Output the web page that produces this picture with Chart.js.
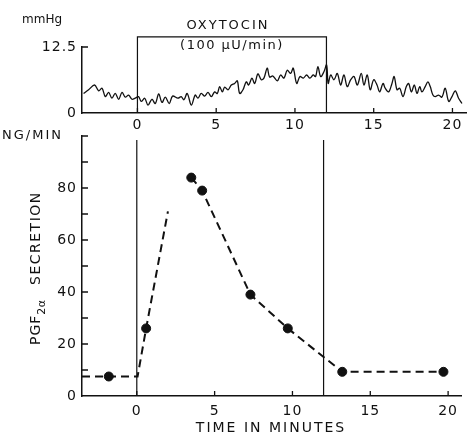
<!DOCTYPE html>
<html>
<head>
<meta charset="utf-8">
<script src="https://cdn.jsdelivr.net/npm/chart.js@4.4.1/dist/chart.umd.min.js"></script>
<style>
  body { margin: 0; background: #fff; }
  .wrap { position: relative; width: 467px; height: 436px; }
  canvas { position: absolute; left: 0; }
  #top { top: 0; }
  #bottom { top: 120px; }
</style>
</head>
<body>
<div class="wrap">
  <canvas id="top" width="467" height="140"></canvas>
  <canvas id="bottom" width="467" height="316"></canvas>
</div>
<script>
// time axis (minutes)
const timeMin = -3.52;
const timeMax = 20.86;
const timeTicks = [0, 5, 10, 15, 20];

// oxytocin infusion
const infusionStart = 0;
const infusionEnd = 12;
const boxTop = 14.4;

// uterine pressure trace (mmHg)
const pressureTimes = [-3.42, -3.1, -2.72, -2.46, -2.25, -2.04, -1.83, -1.62, -1.41, -1.19, -0.98, -0.77, -0.56, -0.35, -0.14,
  0.07, 0.24, 0.46, 0.67, 0.92, 1.13, 1.35, 1.56, 1.77, 2.02, 2.23,
  2.57, 2.78, 2.95, 3.16, 3.42, 3.67, 3.84, 4.05, 4.27, 4.48, 4.69, 4.9, 5.07, 5.22, 5.39, 5.54, 5.75, 5.96, 6.17, 6.34,
  6.49, 6.7, 6.91, 7.06, 7.27, 7.44, 7.65, 7.86, 8.03, 8.24, 8.39, 8.6,
  8.88, 9.09, 9.3, 9.51, 9.73, 9.89, 10.11, 10.32, 10.53, 10.74, 10.95, 11.16, 11.31, 11.46, 11.63, 11.84, 12.01,
  12.11, 12.27, 12.48, 12.69, 12.9, 13.11, 13.32, 13.54, 13.75, 13.96, 14.21, 14.38, 14.59,
  14.78, 15.0, 15.21, 15.38, 15.59, 15.73, 15.95, 16.16, 16.3, 16.48, 16.65, 16.86, 17.07, 17.22, 17.39, 17.58,
  17.75, 17.92, 18.06, 18.27, 18.44, 18.59, 18.76, 18.91, 19.12, 19.33, 19.54, 19.76, 19.97, 20.18, 20.39, 20.6];
const pressureValues = [3.7, 4.4, 5.3, 4.2, 4.7, 3.1, 3.9, 2.8, 3.7, 2.6, 3.9, 3.0, 3.4, 2.6, 2.8,
  3.1, 2.2, 2.8, 1.5, 2.6, 1.8, 3.6, 2.0, 3.0, 1.8, 3.2,
  2.8, 3.1, 2.5, 3.7, 1.5, 3.4, 2.8, 3.7, 3.2, 3.9, 3.1, 4.0, 3.7, 5.0, 4.0, 4.9, 4.4, 5.3, 5.6, 6.1,
  3.7, 4.4, 5.9, 5.3, 6.6, 5.6, 7.4, 6.3, 6.6, 8.5, 6.8, 7.0,
  6.1, 7.2, 6.6, 8.1, 7.5, 8.5, 5.6, 6.9, 6.6, 7.2, 6.6, 7.2, 6.9, 8.8, 6.9, 7.8, 9.1,
  5.6, 7.2, 6.3, 7.5, 5.3, 7.2, 5.0, 6.3, 6.9, 5.3, 7.5, 5.3, 7.2,
  4.4, 6.3, 5.3, 4.0, 5.6, 4.7, 4.0, 5.6, 6.9, 4.4, 4.7, 3.1, 5.0, 5.6, 4.0, 5.3,
  3.7, 5.0, 4.0, 5.0, 5.9, 5.0, 3.4, 3.1, 3.4, 3.0, 4.7, 2.2, 3.1, 4.2, 2.8, 1.8];
const pressureTicks = [0, 12.5];

// PGF2a secretion (ng/min)
const sampleTimes = [-1.8, 0.6, 3.5, 4.2, 7.3, 9.7, 13.2, 19.7];
const sampleValues = [7.5, 26, 84, 79, 39, 26, 9.3, 9.3];
const riseTimes = [-3.52, -1.8, 0.05, 0.6, 2.0];
const riseValues = [7.5, 7.5, 7.5, 26, 71];
const fallTimes = [3.5, 4.2, 7.3, 9.7, 13.2, 19.7];
const fallValues = [84, 79, 39, 26, 9.3, 9.3];
const secretionTicks = [0, 10, 20, 30, 40, 50, 60, 70, 80, 90, 100];
const secretionMax = 100;
const markerTop = 98.5;

const ink = '#111';
Chart.defaults.font.family = 'DejaVu Sans';
Chart.defaults.color = ink;

const pts = (xs, ys) => xs.map((x, i) => ({ x, y: ys[i] }));

const spacing = {
  id: 'spacing',
  beforeDraw(chart) { chart.ctx.letterSpacing = '1px'; },
  afterDraw(chart) { chart.ctx.letterSpacing = '0px'; }
};

const inwardTicks = {
  id: 'inwardTicks',
  afterDraw(chart) {
    const { ctx } = chart;
    const { x, y } = chart.scales;
    ctx.save();
    ctx.strokeStyle = ink;
    ctx.lineWidth = 1.3;
    ctx.beginPath();
    x.ticks.forEach(t => {
      const px = x.getPixelForValue(t.value);
      ctx.moveTo(px, x.top);
      ctx.lineTo(px, x.top - 5);
    });
    y.ticks.forEach(t => {
      const py = y.getPixelForValue(t.value);
      if (t.value === 0) return;
      ctx.moveTo(y.right, py);
      ctx.lineTo(y.right + 6, py);
    });
    ctx.stroke();
    ctx.restore();
  }
};

function text(ctx, str, x, y, size, align, gap) {
  ctx.font = size + 'px "DejaVu Sans"';
  ctx.letterSpacing = gap + 'px';
  ctx.textAlign = align;
  ctx.fillText(str, x, y);
}

const topLabels = {
  id: 'topLabels',
  afterDraw(chart) {
    const { ctx } = chart;
    const { x, y } = chart.scales;
    const cx = (x.getPixelForValue(infusionStart) + x.getPixelForValue(infusionEnd)) / 2;
    const by = y.getPixelForValue(boxTop);
    ctx.save();
    ctx.fillStyle = ink;
    ctx.textBaseline = 'middle';
    text(ctx, 'mmHg', 22, 20, 12, 'left', 0);
    text(ctx, 'OXYTOCIN', cx - 4, by - 11, 13, 'center', 2);
    text(ctx, '(100 \u03bcU/min)', cx, by + 9, 13, 'center', 1.5);
    ctx.restore();
  }
};

const bottomLabels = {
  id: 'bottomLabels',
  afterDraw(chart) {
    const { ctx } = chart;
    const { y } = chart.scales;
    ctx.save();
    ctx.fillStyle = ink;
    ctx.textBaseline = 'middle';
    text(ctx, 'NG/MIN', 2, y.getPixelForValue(secretionMax), 13, 'left', 2);
    text(ctx, 'TIME IN MINUTES', 271, 308, 14, 'center', 2);
    ctx.textBaseline = 'alphabetic';
    ctx.translate(40, 225);
    ctx.rotate(-Math.PI / 2);
    text(ctx, 'PGF', 0, 0, 14, 'left', 1);
    const w = ctx.measureText('PGF').width;
    text(ctx, '2\u03b1', w, 5, 11, 'left', 0.5);
    text(ctx, 'SECRETION', 60, 0, 14, 'left', 1.5);
    ctx.restore();
  }
};

const timeAxis = (height, pad) => ({
  type: 'linear',
  min: timeMin,
  max: timeMax,
  afterBuildTicks: s => { s.ticks = timeTicks.map(v => ({ value: v })); },
  afterFit: s => { s.height = height; },
  grid: { display: false, drawTicks: false },
  border: { display: true, color: ink, width: 1.5 },
  ticks: { padding: pad, font: { size: 14 }, color: ink, maxRotation: 0 }
});

new Chart(document.getElementById('top'), {
  type: 'line',
  data: {
    datasets: [
      {
        data: pts([infusionStart, infusionStart, infusionEnd, infusionEnd], [0, boxTop, boxTop, 0]),
        borderColor: ink, borderWidth: 1.2, pointRadius: 0, tension: 0, clip: false
      },
      {
        data: pts(pressureTimes, pressureValues),
        borderColor: ink, borderWidth: 1.3, pointRadius: 0, tension: 0.35
      }
    ]
  },
  options: {
    responsive: false,
    animation: false,
    devicePixelRatio: 1,
    layout: { padding: { left: 0, right: 1, top: 47, bottom: 0 } },
    plugins: { legend: { display: false }, tooltip: { enabled: false } },
    scales: {
      x: timeAxis(27, 4),
      y: {
        type: 'linear',
        min: 0,
        max: 12.5,
        afterBuildTicks: s => { s.ticks = pressureTicks.map(v => ({ value: v })); },
        afterFit: s => { s.width = 82; },
        grid: { display: false, drawTicks: false },
        border: { display: true, color: ink, width: 1.5 },
        ticks: { padding: 5, font: { size: 14 }, color: ink, callback: v => String(v) }
      }
    }
  },
  plugins: [spacing, inwardTicks, topLabels]
});

new Chart(document.getElementById('bottom'), {
  type: 'line',
  data: {
    datasets: [
      {
        data: pts([infusionStart, infusionStart], [0, markerTop]),
        borderColor: ink, borderWidth: 1.2, pointRadius: 0
      },
      {
        data: pts([infusionEnd, infusionEnd], [0, markerTop]),
        borderColor: ink, borderWidth: 1.2, pointRadius: 0
      },
      {
        data: pts(riseTimes, riseValues),
        borderColor: ink, borderWidth: 2, borderDash: [8, 5], pointRadius: 0, tension: 0
      },
      {
        data: pts(fallTimes, fallValues),
        borderColor: ink, borderWidth: 2, borderDash: [8, 5], pointRadius: 0, tension: 0
      },
      {
        data: pts(sampleTimes, sampleValues),
        showLine: false, pointRadius: 4.5, pointBackgroundColor: ink, pointBorderColor: ink
      }
    ]
  },
  options: {
    responsive: false,
    animation: false,
    devicePixelRatio: 1,
    layout: { padding: { left: 0, right: 1, top: 16, bottom: 0 } },
    plugins: { legend: { display: false }, tooltip: { enabled: false } },
    scales: {
      x: timeAxis(40, 7),
      y: {
        type: 'linear',
        min: 0,
        max: secretionMax,
        afterBuildTicks: s => { s.ticks = secretionTicks.map(v => ({ value: v })); },
        afterFit: s => { s.width = 82; },
        grid: { display: false, drawTicks: false },
        border: { display: true, color: ink, width: 1.5 },
        ticks: {
          padding: 5, font: { size: 14 }, color: ink,
          callback: v => (v % 20 === 0 && v !== secretionMax ? String(v) : '')
        }
      }
    }
  },
  plugins: [spacing, inwardTicks, bottomLabels]
});
</script>
</body>
</html>
